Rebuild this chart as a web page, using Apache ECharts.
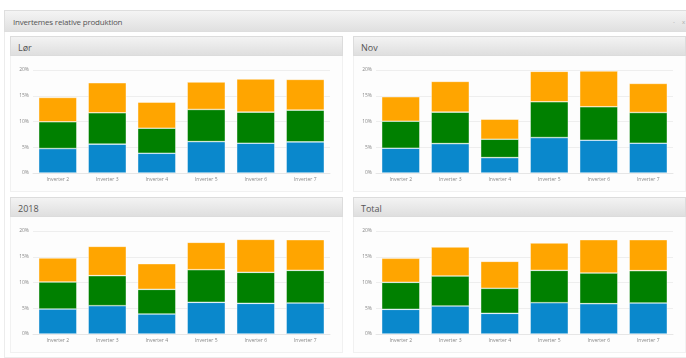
<!DOCTYPE html>
<html>
<head>
<meta charset="utf-8">
<script src="https://cdn.jsdelivr.net/npm/echarts@6/dist/echarts.min.js"></script>
<style>
  html, body { margin: 0; padding: 0; background: #fff; width: 686px; height: 358px; overflow: hidden; }
  body { position: relative; font-family: "Open Sans", "DejaVu Sans", sans-serif; }
  .frame { position: absolute; left: 4px; top: 10px; width: 690px; height: 346px; border: 1px solid #ececec; background: #fff; }
  .frame-head { position: absolute; left: 4px; top: 10px; width: 690px; height: 22px;
    background: linear-gradient(#f4f4f4, #e0e0e0); border: 1px solid #dedede; box-sizing: border-box; }
  .frame-head span { position: absolute; left: 8px; top: 5px; font-size: 8px; color: #555; letter-spacing: -0.2px; }
  .frame-head i { position: absolute; top: 7px; font-style: normal; font-size: 6px; color: #aaa; }
  .panel { position: absolute; width: 333px; border: 1px solid #f1f1f1; background: #fdfdfd; box-sizing: border-box; }
  .panel-head { position: absolute; width: 333px; height: 20px;
    background: linear-gradient(#f3f3f3, #dfdfdf); border: 1px solid #dcdcdc; box-sizing: border-box; }
  .panel-head span { position: absolute; left: 7px; top: 4px; font-size: 9px; color: #555; }
  .chart { position: absolute; width: 333px; }
</style>
</head>
<body>
<div class="frame"></div>
<div class="frame-head"><span>Invertemes relative produktion</span><i style="left:668px">-</i><i style="left:677px">x</i></div>

<div class="panel" style="left:10px;top:36px;height:156px"></div>
<div class="panel-head" style="left:10px;top:36px"><span>Lør</span></div>
<div class="chart" id="c1" style="left:10px;top:57px;height:133px"></div>

<div class="panel" style="left:353px;top:36px;height:156px"></div>
<div class="panel-head" style="left:353px;top:36px"><span>Nov</span></div>
<div class="chart" id="c2" style="left:353px;top:57px;height:133px"></div>

<div class="panel" style="left:10px;top:197px;height:156px"></div>
<div class="panel-head" style="left:10px;top:197px"><span>2018</span></div>
<div class="chart" id="c3" style="left:10px;top:217px;height:135px"></div>

<div class="panel" style="left:353px;top:197px;height:156px"></div>
<div class="panel-head" style="left:353px;top:197px"><span>Total</span></div>
<div class="chart" id="c4" style="left:353px;top:217px;height:135px"></div>

<script>
// categories and tick labels
const inverters = ['Inverter 2', 'Inverter 3', 'Inverter 4', 'Inverter 5', 'Inverter 6', 'Inverter 7'];
const yTicks = [0, 5, 10, 15, 20];

// segment values (%), bottom to top: blue, green, orange
const lorBlue = [4.75, 5.6, 3.83, 6.1, 5.78, 6.04];
const lorGreen = [5.19, 6.09, 4.87, 6.24, 6.04, 6.17];
const lorOrange = [4.73, 5.84, 5.07, 5.32, 6.43, 5.97];

const novBlue = [4.81, 5.71, 2.99, 6.88, 6.36, 5.78];
const novGreen = [5.25, 6.11, 3.57, 6.95, 6.5, 5.97];
const novOrange = [4.75, 5.97, 3.89, 5.91, 6.95, 5.65];

const y2018Blue = [4.85, 5.5, 3.88, 6.15, 5.95, 6.02];
const y2018Green = [5.25, 5.83, 4.79, 6.34, 6.02, 6.34];
const y2018Orange = [4.66, 5.69, 4.99, 5.31, 6.41, 5.96];

const totalBlue = [4.79, 5.44, 4.01, 6.08, 5.89, 6.02];
const totalGreen = [5.24, 5.82, 4.86, 6.28, 5.95, 6.28];
const totalOrange = [4.67, 5.63, 5.24, 5.31, 6.48, 6.02];

const colors = ['#0a88cc', '#008000', '#ffa500'];

function initChart(id, blue, green, orange, top, bottom) {
  const chartDom = document.getElementById(id);
  const myChart = echarts.init(chartDom, null, { renderer: 'canvas' });

  const makeSeries = (name, data, color) => ({
    name: name,
    type: 'bar',
    stack: 'total',
    data: data,
    barWidth: '77%',
    itemStyle: {
      color: color,
      borderColor: 'rgba(255,255,255,0.7)',
      borderWidth: 0.6
    }
  });

  const option = {
    animation: false,
    grid: {
      left: 23,
      right: 13,
      top: top,
      bottom: bottom
    },
    xAxis: {
      type: 'category',
      data: inverters,
      axisLine: { lineStyle: { color: '#e6e6e6' } },
      axisTick: { show: false },
      axisLabel: { color: '#888', fontSize: 5, margin: 4, fontFamily: 'Open Sans' }
    },
    yAxis: {
      type: 'value',
      min: yTicks[0],
      max: yTicks[yTicks.length - 1],
      interval: yTicks[1] - yTicks[0],
      axisLine: { show: false },
      axisTick: { show: false },
      axisLabel: { color: '#888', fontSize: 5, margin: 4, formatter: '{value}%', fontFamily: 'Open Sans' },
      splitLine: { lineStyle: { color: '#eeeeee' } }
    },
    series: [
      makeSeries('Blå', blue, colors[0]),
      makeSeries('Grøn', green, colors[1]),
      makeSeries('Orange', orange, colors[2])
    ]
  };

  myChart.setOption(option);
}

initChart('c1', lorBlue, lorGreen, lorOrange, 13, 17);
initChart('c2', novBlue, novGreen, novOrange, 13, 17);
initChart('c3', y2018Blue, y2018Green, y2018Orange, 14, 18);
initChart('c4', totalBlue, totalGreen, totalOrange, 14, 18);
</script>
</body>
</html>
